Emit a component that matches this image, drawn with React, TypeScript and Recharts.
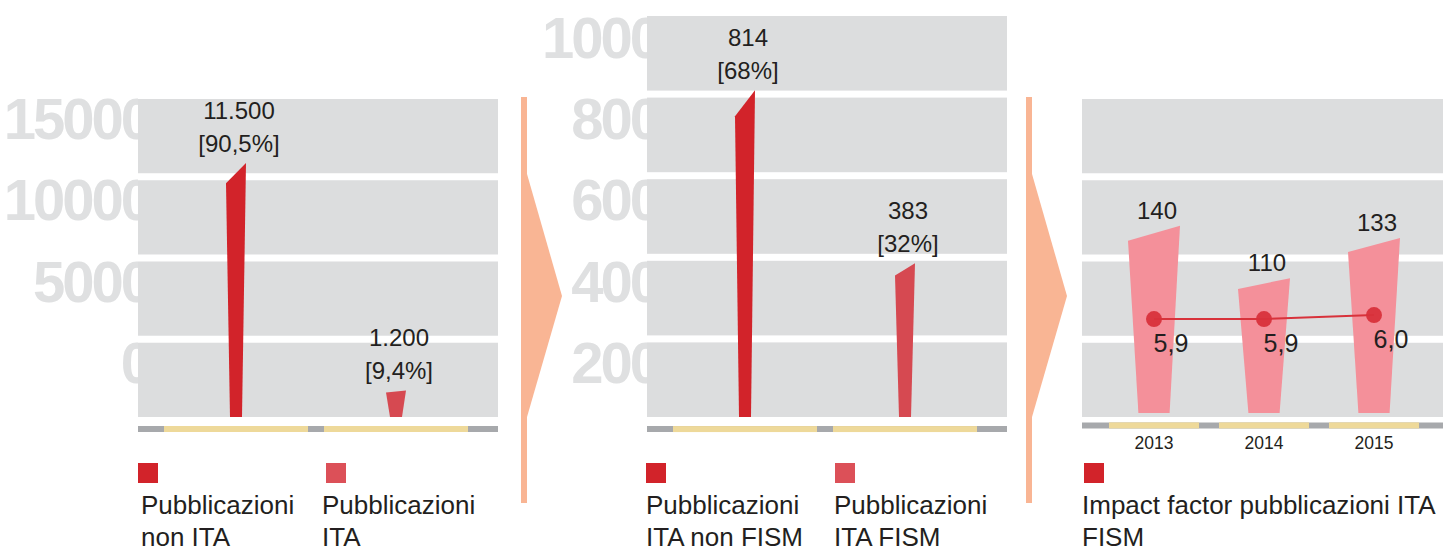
import React from "react";
import {
  ComposedChart,
  Bar,
  Line,
  Cell,
  XAxis,
  YAxis,
  ReferenceArea,
  LabelList,
} from "recharts";

// panel 1: all publications
const P1_CATEGORIES = ["Pubblicazioni non ITA", "Pubblicazioni ITA"];
const P1_VALUES = [11500, 1200];
const P1_SHARES = ["[90,5%]", "[9,4%]"];
const P1_TICKS = [0, 5000, 10000, 15000];

// panel 2: ITA publications, FISM vs non FISM
const P2_CATEGORIES = ["Pubblicazioni ITA non FISM", "Pubblicazioni ITA FISM"];
const P2_VALUES = [814, 383];
const P2_SHARES = ["[68%]", "[32%]"];
const P2_TICKS = [200, 400, 600, 800, 1000];

// panel 3: FISM publications per year + impact factor
const P3_YEARS = ["2013", "2014", "2015"];
const P3_COUNTS = [140, 110, 133];
const P3_IMPACT = [5.9, 5.9, 6.0];
const P3_COUNT_BASE = 33;
const P3_LEGEND = "Impact factor pubblicazioni ITA FISM";

// grey background stripes (one per band index)
const P1_BANDS = [0, 1, 2, 3];
const P2_BANDS = [0, 1, 2, 3, 4];

const COLORS = {
  band: "#dcddde",
  ghost: "#dfe0e1",
  axis: "#a7a9ac",
  axisSeg: "#eed99a",
  dark: "#d2232a",
  light: "#d64951",
  lightLegend: "#dc5058",
  pink: "#f4909a",
  impact: "#d8323b",
  arrow: "#f9b594",
  text: "#231f20",
};
const FONT = "'Liberation Sans', Arial, Helvetica, sans-serif";
const BAND_GAP = 7;
const CHART_H = 546;
const X_AXIS_H = 30;
const SHARE_PAD = { left: 18, right: 22 };
const IMPACT_PAD = { left: 17, right: 14 };

const fmtThousands = (n: number) =>
  String(n).replace(/\B(?=(\d{3})+(?!\d))/g, ".");
const fmtDecimal = (n: number) => n.toFixed(1).replace(".", ",");

const p1Data = P1_CATEGORIES.map((name, i) => ({
  name,
  value: P1_VALUES[i],
  share: P1_SHARES[i],
}));
const p2Data = P2_CATEGORIES.map((name, i) => ({
  name,
  value: P2_VALUES[i],
  share: P2_SHARES[i],
}));
const p3Data = P3_YEARS.map((year, i) => ({
  year,
  count: P3_COUNTS[i],
  range: [P3_COUNT_BASE, P3_COUNTS[i]],
  impact: P3_IMPACT[i],
}));

// reference areas span the padded x range, so widen them back to the plot edges
const bandShape = (pad: { left: number; right: number }) => (p: any) => (
  <rect
    x={p.x - pad.left}
    y={p.y + BAND_GAP / 2}
    width={p.width + pad.left + pad.right}
    height={Math.max(0, p.height - BAND_GAP)}
    fill={COLORS.band}
  />
);

// bar drawn as a tapered wedge with a slanted top
function TaperedBar(props: any) {
  const { x, y, width, height, fill } = props;
  if (!height || height <= 0) return null;
  const cx = x + width / 2;
  const bottomHalf = width * 0.3;
  const dip = height * 0.08;
  const pts = [
    [cx - width / 2, y + dip],
    [cx + width / 2, y],
    [cx + bottomHalf, y + height],
    [cx - bottomHalf, y + height],
  ];
  return <polygon points={pts.map((p) => p.join(",")).join(" ")} fill={fill} />;
}

const vbOf = (p: any) => (p.viewBox && p.viewBox.width !== undefined ? p.viewBox : p);

const barText = (offset: number, format: (v: any) => string) => (p: any) => {
  const vb = vbOf(p);
  const cx = vb.x + vb.width / 2 + 3;
  return (
    <text
      x={cx}
      y={vb.y - offset}
      textAnchor="middle"
      fontSize={24}
      fontFamily={FONT}
      fill={COLORS.text}
    >
      {format(p.value)}
    </text>
  );
};

const ghostTick = (edge: number, clipId: string) => (p: any) => {
  const id = `${clipId}-${Math.round(p.y)}`;
  return (
    <g>
      <defs>
        <clipPath id={id}>
          <rect x={0} y={p.y - 50} width={edge} height={100} />
        </clipPath>
      </defs>
      <text
        x={edge + 12}
        y={p.y}
        dy="0.36em"
        textAnchor="end"
        fontSize={58}
        fontWeight={700}
        letterSpacing={-3}
        fontFamily={FONT}
        fill={COLORS.ghost}
        clipPath={`url(#${id})`}
      >
        {p.payload.value}
      </text>
    </g>
  );
};

const segmentTick = (segWidth: number, showLabel: boolean) => (p: any) => (
  <g>
    <rect x={p.x - segWidth / 2} y={p.y - 3} width={segWidth} height={6} fill={COLORS.axisSeg} />
    {showLabel && (
      <text
        x={p.x}
        y={p.y + 24}
        textAnchor="middle"
        fontSize={17.5}
        fontFamily={FONT}
        fill={COLORS.text}
      >
        {p.payload.value}
      </text>
    )}
  </g>
);

interface SharePanelProps {
  data: { name: string; value: number; share: string }[];
  left: number;
  width: number;
  axisWidth: number;
  marginTop: number;
  plotBottom: number;
  barDomain: [number, number];
  tickDomain: [number, number];
  ticks: number[];
  bands: number[];
  bandDomain: [number, number];
  clipId: string;
}

function SharePanel(props: SharePanelProps) {
  const fills = [COLORS.dark, COLORS.light];
  return (
    <div style={{ position: "absolute", left: props.left, top: 0 }}>
      <ComposedChart
        width={props.width}
        height={CHART_H}
        data={props.data}
        margin={{
          top: props.marginTop,
          right: props.width - props.axisWidth - 360,
          bottom: CHART_H - props.plotBottom - X_AXIS_H,
          left: 0,
        }}
      >
        <XAxis
          dataKey="name"
          height={X_AXIS_H}
          padding={SHARE_PAD}
          axisLine={{ stroke: COLORS.axis, strokeWidth: 6 }}
          tickLine={false}
          tickSize={0}
          tickMargin={0}
          interval={0}
          tick={segmentTick(144, false)}
        />
        <YAxis
          yAxisId="label"
          type="number"
          width={props.axisWidth}
          domain={props.tickDomain}
          ticks={props.ticks}
          allowDataOverflow
          interval={0}
          axisLine={false}
          tickLine={false}
          tick={ghostTick(props.axisWidth, props.clipId)}
        />
        <YAxis yAxisId="bar" type="number" hide domain={props.barDomain} allowDataOverflow />
        <YAxis yAxisId="band" type="number" hide domain={props.bandDomain} allowDataOverflow />
        {props.bands.map((b) => (
          <ReferenceArea
            key={b}
            yAxisId="band"
            y1={b}
            y2={b + 1}
            shape={bandShape(SHARE_PAD)}
          />
        ))}
        <Bar
          yAxisId="bar"
          dataKey="value"
          barSize={20}
          shape={<TaperedBar />}
          isAnimationActive={false}
        >
          {props.data.map((d, i) => (
            <Cell key={d.name} fill={fills[i % fills.length]} />
          ))}
          <LabelList dataKey="value" content={barText(44, fmtThousands)} />
          <LabelList dataKey="share" content={barText(11, (v) => String(v))} />
        </Bar>
      </ComposedChart>
    </div>
  );
}

function ImpactPanel() {
  return (
    <div style={{ position: "absolute", left: 1040, top: 0 }}>
      <ComposedChart
        width={403}
        height={CHART_H}
        data={p3Data}
        margin={{ top: 95.5, right: 0, bottom: CHART_H - 425.4 - X_AXIS_H, left: 42 }}
      >
        <XAxis
          dataKey="year"
          height={X_AXIS_H}
          padding={IMPACT_PAD}
          axisLine={{ stroke: COLORS.axis, strokeWidth: 6 }}
          tickLine={false}
          tickSize={0}
          tickMargin={0}
          interval={0}
          tick={segmentTick(90, true)}
        />
        <YAxis yAxisId="bar" type="number" hide domain={[25.9, 214.4]} allowDataOverflow />
        <YAxis yAxisId="line" type="number" hide domain={[3.24, 11.49]} allowDataOverflow />
        <YAxis yAxisId="band" type="number" hide domain={[-0.06, 4]} allowDataOverflow />
        {P1_BANDS.map((b) => (
          <ReferenceArea
            key={b}
            yAxisId="band"
            y1={b}
            y2={b + 1}
            shape={bandShape(IMPACT_PAD)}
          />
        ))}
        <Bar
          yAxisId="bar"
          dataKey="range"
          barSize={52}
          fill={COLORS.pink}
          shape={<TaperedBar />}
          isAnimationActive={false}
        >
          <LabelList dataKey="count" content={barText(7, (v) => String(v))} />
        </Bar>
        <Line
          yAxisId="line"
          dataKey="impact"
          stroke={COLORS.impact}
          strokeWidth={2}
          dot={{ r: 8, fill: COLORS.impact, stroke: "none", fillOpacity: 0.95 }}
          activeDot={false}
          isAnimationActive={false}
        >
          <LabelList
            dataKey="impact"
            content={(p: any) => {
              const vb = p.viewBox ?? p;
              return (
                <text
                  x={vb.x + 17}
                  y={vb.y + 33}
                  textAnchor="middle"
                  fontSize={25}
                  fontFamily={FONT}
                  fill={COLORS.text}
                >
                  {fmtDecimal(Number(p.value))}
                </text>
              );
            }}
          />
        </Line>
      </ComposedChart>
    </div>
  );
}

const LEGEND_ITEMS = [
  { label: P1_CATEGORIES[0], color: COLORS.dark, square: 138, text: 141, w: 175 },
  { label: P1_CATEGORIES[1], color: COLORS.lightLegend, square: 326, text: 322, w: 175 },
  { label: P2_CATEGORIES[0], color: COLORS.dark, square: 646, text: 646, w: 175 },
  { label: P2_CATEGORIES[1], color: COLORS.lightLegend, square: 835, text: 834, w: 175 },
  { label: P3_LEGEND, color: COLORS.dark, square: 1084, text: 1082, w: 360 },
];

function Separators() {
  return (
    <svg
      width={1443}
      height={CHART_H}
      style={{ position: "absolute", left: 0, top: 0 }}
    >
      {[521, 1026].map((x) => (
        <g key={x} fill={COLORS.arrow}>
          <rect x={x} y={97} width={6} height={406} />
          <polygon points={`${x + 6},174 ${x + 41},296 ${x + 6},417`} />
        </g>
      ))}
    </svg>
  );
}

export default function App() {
  return (
    <div
      style={{
        position: "absolute",
        left: 0,
        top: 0,
        width: 1443,
        height: CHART_H,
        overflow: "hidden",
        background: "#fff",
        fontFamily: FONT,
      }}
    >
      <Separators />
      <SharePanel
        data={p1Data}
        left={0}
        width={500}
        axisWidth={138}
        marginTop={95.5}
        plotBottom={429}
        barDomain={[-543, 14554]}
        tickDomain={[-4119, 16383]}
        ticks={P1_TICKS}
        bands={P1_BANDS}
        bandDomain={[-0.105, 4]}
        clipId="p1clip"
      />
      <SharePanel
        data={p2Data}
        left={520}
        width={490}
        axisWidth={127}
        marginTop={12.5}
        plotBottom={429.07}
        barDomain={[-30, 1007.5]}
        tickDomain={[34.9, 1060.3]}
        ticks={P2_TICKS}
        bands={P2_BANDS}
        bandDomain={[-0.105, 5]}
        clipId="p2clip"
      />
      <ImpactPanel />
      {LEGEND_ITEMS.map((it) => (
        <React.Fragment key={it.label}>
          <div
            style={{
              position: "absolute",
              left: it.square,
              top: 463,
              width: 20,
              height: 20,
              background: it.color,
            }}
          />
          <div
            style={{
              position: "absolute",
              left: it.text,
              top: 489,
              width: it.w,
              fontSize: 26,
              lineHeight: "32px",
              color: COLORS.text,
            }}
          >
            {it.label}
          </div>
        </React.Fragment>
      ))}
    </div>
  );
}
